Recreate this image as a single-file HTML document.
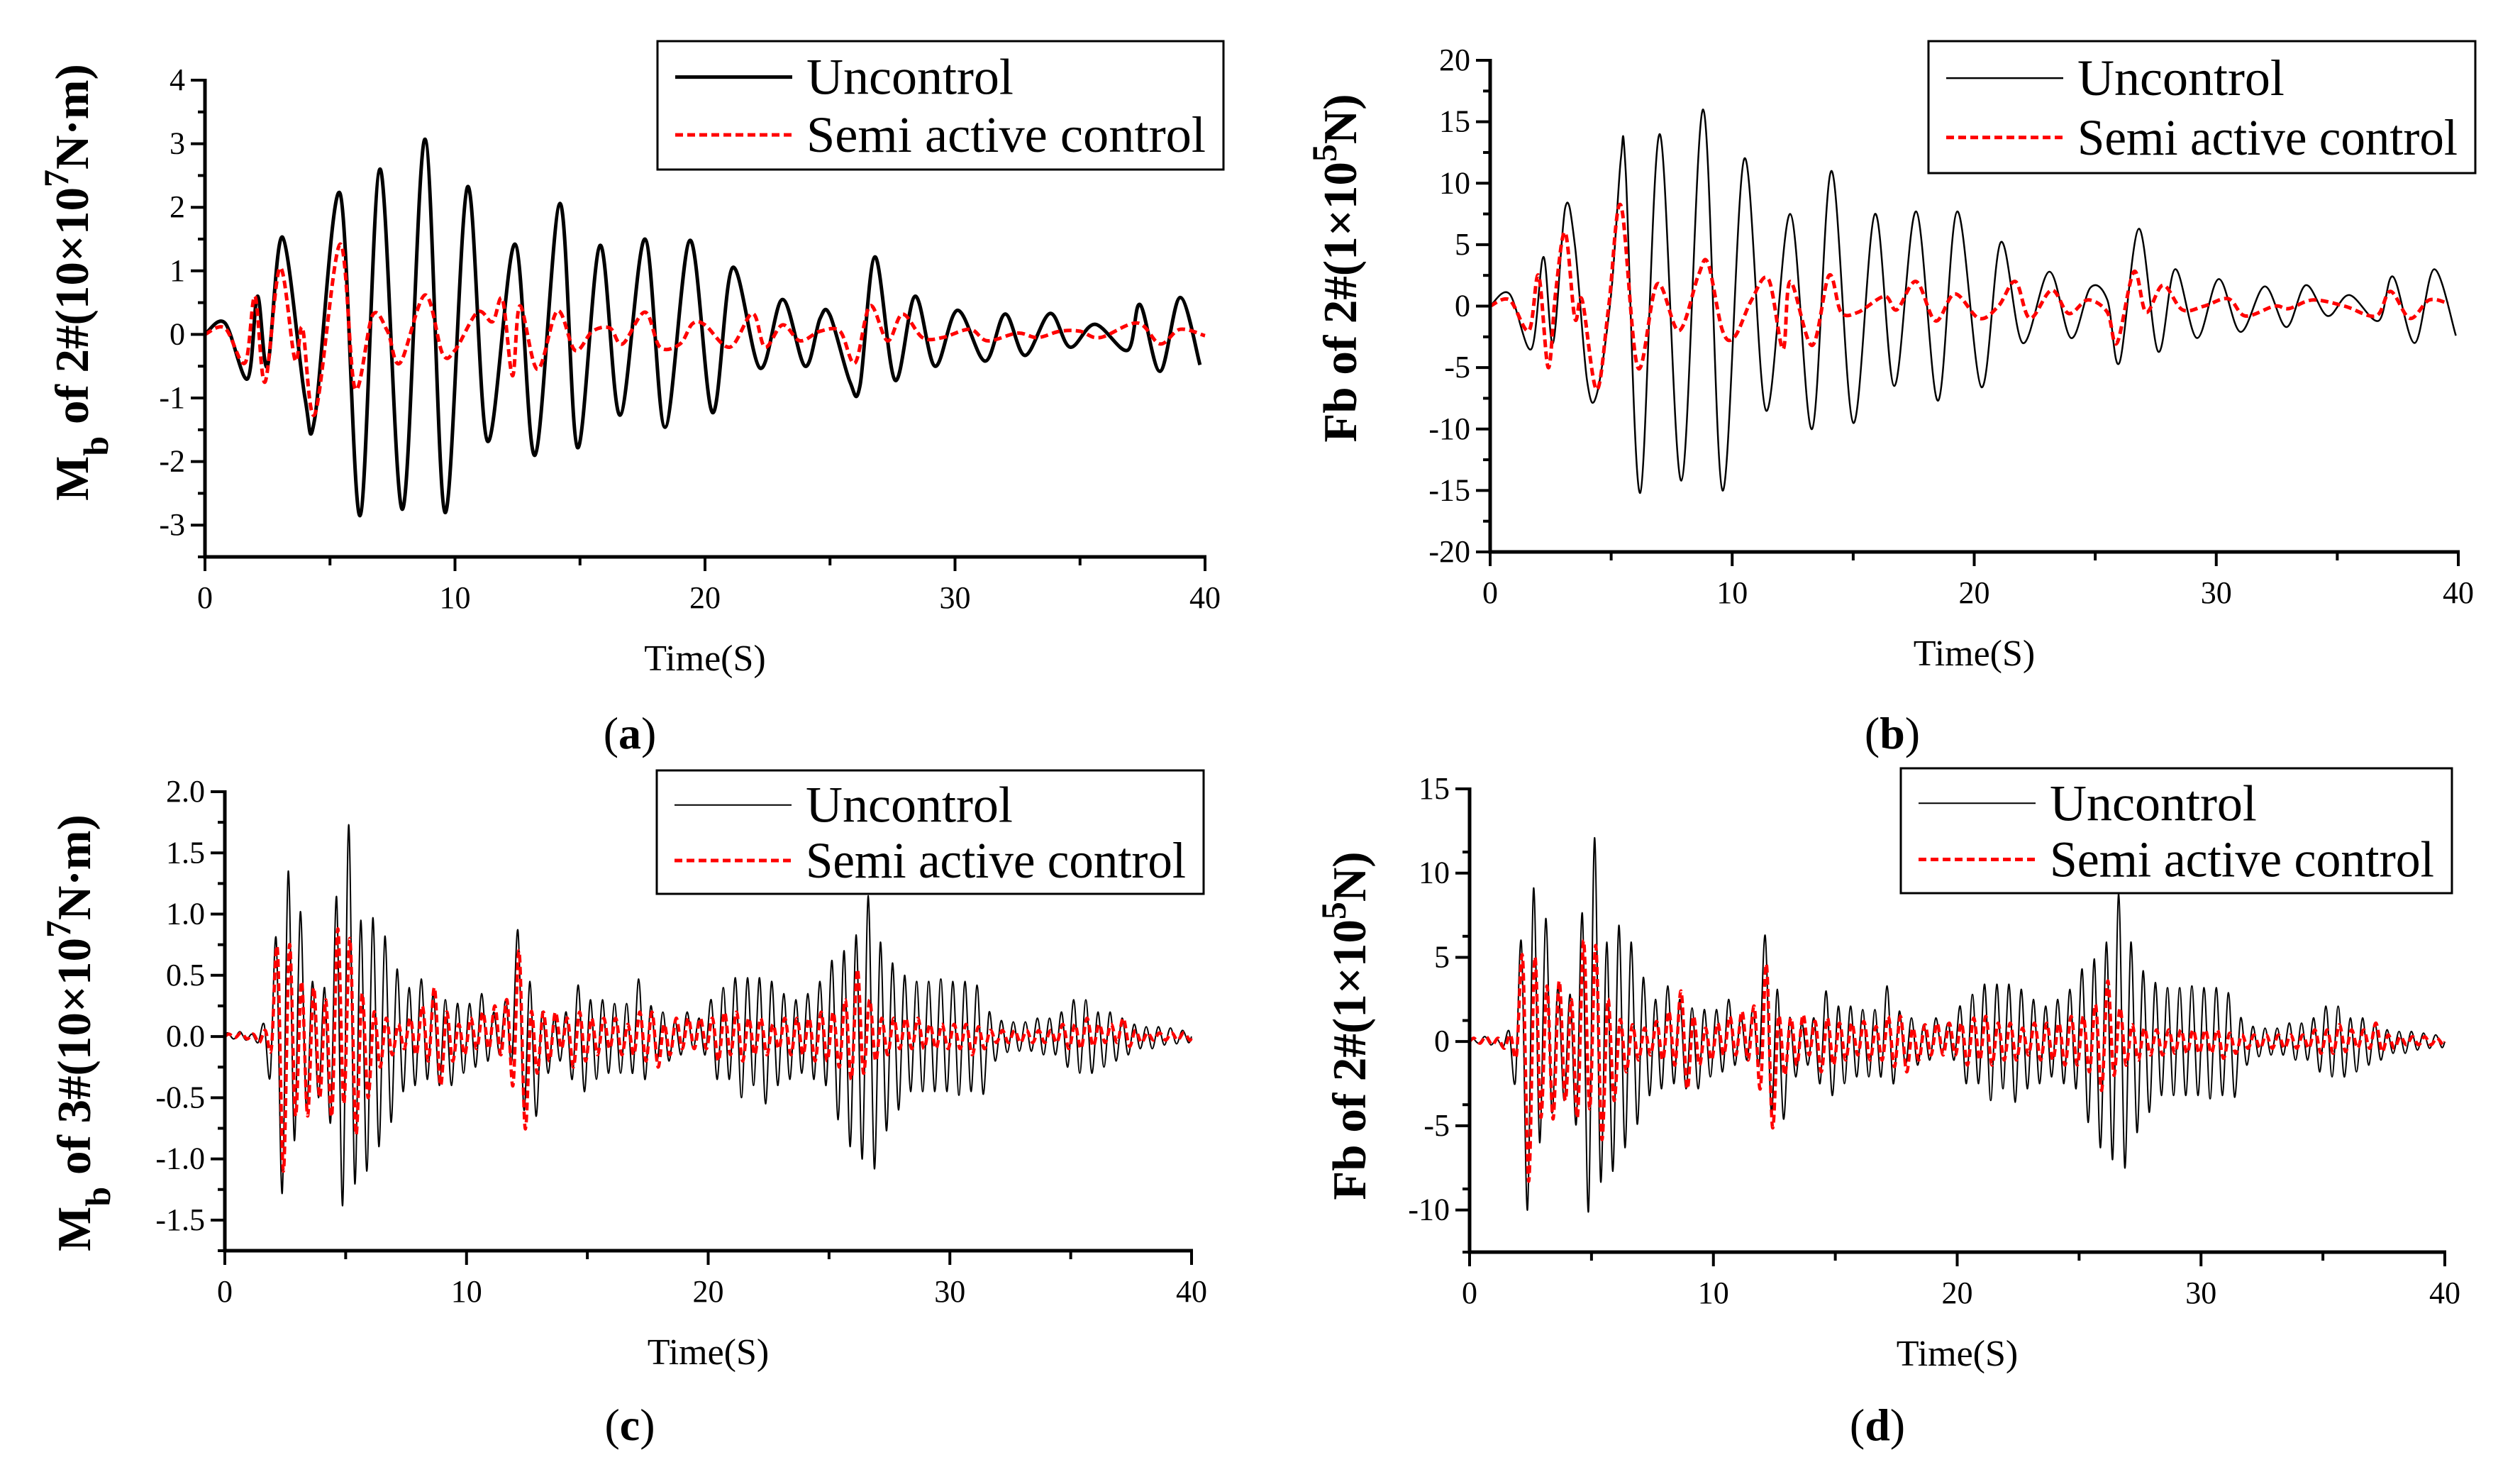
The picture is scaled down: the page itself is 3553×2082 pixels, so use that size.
<!DOCTYPE html>
<html><head><meta charset="utf-8"><style>
html,body{margin:0;padding:0;background:#fff}
svg{display:block}
text{font-family:"Liberation Serif",serif}
</style></head><body>
<svg id="fig" width="3553" height="2082" viewBox="0 0 3553 2082" xmlns="http://www.w3.org/2000/svg"></svg>
<script>
// Panel (a): extrema [time, value]
const aUnT=[0,0.8,1.7,2.1,2.5,3.1,4.0,4.4,5.4,6.2,7.0,7.9,8.8,9.6,10.5,11.3,12.4,13.2,14.2,14.9,15.8,16.6,17.6,18.4,19.4,20.3,21.1,22.2,23.1,24.0,24.6,25.0,25.8,26.2,26.8,27.6,28.4,29.2,30.1,31.2,32.0,32.8,33.8,34.6,35.6,36.9,37.4,38.2,39.0,39.8];
const aUnV=[0,0.18,-0.7,0.6,-0.5,1.53,-1.0,-1.3,2.22,-2.85,2.6,-2.75,3.07,-2.8,2.32,-1.68,1.42,-1.9,2.06,-1.78,1.4,-1.27,1.5,-1.46,1.48,-1.23,1.05,-0.53,0.55,-0.5,0.25,0.3,-0.75,-0.8,1.22,-0.72,0.6,-0.5,0.38,-0.42,0.32,-0.33,0.33,-0.2,0.16,-0.25,0.47,-0.58,0.58,-0.48];
const aSeT=[0,0.8,1.6,2.0,2.4,3.0,3.6,3.9,4.4,5.4,6.0,6.7,7.3,7.8,8.8,9.5,10.0,10.9,11.5,11.9,12.3,12.6,13.3,14.1,14.8,15.5,16.2,16.7,17.6,18.2,19.0,19.5,20.0,21.0,21.9,22.4,23.1,23.8,24.6,25.4,26.0,26.6,27.3,27.9,28.7,29.5,30.6,31.3,32.5,33.3,34.2,35.0,35.8,37.3,38.2,39.0,40];
const aSeV=[0,0.1,-0.45,0.6,-0.75,1.05,-0.4,0.1,-1.25,1.42,-0.85,0.3,0.05,-0.45,0.62,-0.3,-0.25,0.35,0.2,0.55,-0.65,0.45,-0.55,0.37,-0.25,0.05,0.1,-0.15,0.35,-0.2,-0.15,0.17,0.15,-0.2,0.33,-0.2,0.15,-0.1,0.05,0.05,-0.45,0.45,-0.1,0.32,-0.05,-0.05,0.08,-0.1,0.02,-0.05,0.05,0.05,-0.05,0.18,-0.15,0.08,-0.02];
// Panel (b)
const bUnT=[0,0.8,1.7,2.2,2.6,3.1,3.5,4.0,4.4,5.0,5.4,5.6,6.2,7.0,7.9,8.8,9.6,10.5,11.4,12.4,13.3,14.1,15.0,15.9,16.7,17.6,18.5,19.3,20.3,21.1,22.0,23.1,24.0,24.8,25.5,26.0,26.8,27.6,28.3,29.2,30.1,31.0,32.0,32.9,33.7,34.6,35.5,36.7,37.3,38.2,39.0,39.9];
const bUnV=[0,1,-3.5,4,-3,8,5,-6,-7.2,1,12,11,-15.2,14,-14.2,16,-15,12,-8.5,7.5,-10,11,-9.5,7.5,-6.5,7.7,-7.7,7.7,-6.6,5.2,-3,2.8,-2.6,1.5,0.5,-4.6,6.3,-3.7,3,-2.6,2.2,-2.1,1.6,-1.7,1.7,-0.8,0.9,-1.2,2.4,-3,3,-2.4];
const bSeT=[0,0.8,1.6,2.0,2.4,2.7,3.1,3.5,3.8,4.4,4.9,5.4,6.1,6.9,7.8,8.6,9.0,9.6,10.1,10.8,11.5,12.1,12.4,13.3,14.0,14.5,15.2,16.3,16.8,17.6,18.4,19.2,20.2,21.0,21.7,22.3,23.2,23.9,24.7,25.5,25.9,26.6,27.1,27.8,28.6,29.5,30.5,31.2,32.4,33.0,34.0,35.3,36.6,37.2,38.0,38.8,39.6];
const bSeV=[0,0.5,-2,2.5,-5,1,6,-1,0.5,-6.8,0,8.2,-5,1.8,-2,2.5,3.5,-2,-2.5,0.5,2.2,-3.5,2,-3.2,2.5,-0.5,-0.5,0.8,-0.3,2,-1.2,1,-1,0,2,-1,1.3,-0.6,0.5,-0.5,-3,2.8,-0.5,1.7,-0.3,0,0.6,-0.8,0,-0.2,0.5,0,-0.8,1.2,-1,0.5,0.2];
// Panels (c),(d): per-cycle peak (hi) and trough (lo), one cycle per 0.5 s
const cUnHi=[0.03,0.04,0.02,0.1,0.8,1.35,1.02,0.45,0.4,1.14,1.73,0.95,0.97,0.82,0.55,0.4,0.47,0.35,0.3,0.27,0.27,0.35,0.2,0.3,0.87,0.45,0.2,0.15,0.2,0.42,0.3,0.3,0.27,0.27,0.47,0.25,0.2,0.13,0.2,0.15,0.3,0.4,0.48,0.48,0.48,0.45,0.35,0.3,0.35,0.45,0.62,0.7,0.83,1.15,0.77,0.6,0.5,0.45,0.45,0.47,0.45,0.45,0.42,0.2,0.13,0.12,0.12,0.15,0.15,0.2,0.3,0.3,0.2,0.2,0.15,0.1,0.08,0.08,0.07,0.05];
const cUnLo=[-0.02,-0.03,-0.05,-0.33,-1.28,-0.85,-0.6,-0.5,-0.7,-1.38,-1.2,-1.1,-0.9,-0.7,-0.45,-0.4,-0.35,-0.4,-0.4,-0.3,-0.25,-0.2,-0.15,-0.2,-0.6,-0.65,-0.3,-0.2,-0.35,-0.45,-0.35,-0.3,-0.3,-0.3,-0.35,-0.2,-0.2,-0.15,-0.1,-0.15,-0.35,-0.35,-0.5,-0.4,-0.55,-0.4,-0.35,-0.3,-0.35,-0.4,-0.68,-0.9,-1.0,-1.08,-0.77,-0.6,-0.45,-0.45,-0.45,-0.45,-0.48,-0.45,-0.47,-0.2,-0.13,-0.12,-0.12,-0.15,-0.15,-0.25,-0.3,-0.3,-0.25,-0.2,-0.15,-0.1,-0.1,-0.07,-0.06,-0.05];
const cSeHi=[0.02,0.03,0.02,0.05,0.72,0.75,0.45,0.4,0.3,0.88,0.8,0.35,0.2,0.15,0.1,0.15,0.25,0.4,0.2,0.1,0.15,0.2,0.25,0.3,0.7,0.2,0.2,0.2,0.15,0.2,0.15,0.15,0.15,0.1,0.2,0.2,0.1,0.15,0.15,0.15,0.15,0.2,0.2,0.15,0.15,0.1,0.15,0.15,0.15,0.2,0.2,0.3,0.55,0.3,0.15,0.15,0.15,0.15,0.1,0.1,0.1,0.1,0.08,0.05,0.05,0.05,0.05,0.05,0.05,0.1,0.1,0.15,0.1,0.1,0.15,0.05,0.03,0.03,0.03,0.03];
const cSeLo=[-0.01,-0.02,-0.05,-0.1,-1.1,-0.65,-0.65,-0.5,-0.65,-0.55,-0.8,-0.5,-0.25,-0.15,-0.1,-0.15,-0.2,-0.4,-0.2,-0.15,-0.1,-0.1,-0.15,-0.4,-0.75,-0.3,-0.2,-0.1,-0.25,-0.2,-0.15,-0.1,-0.15,-0.15,-0.2,-0.25,-0.15,-0.1,-0.1,-0.1,-0.2,-0.15,-0.2,-0.15,-0.15,-0.1,-0.15,-0.15,-0.2,-0.2,-0.25,-0.35,-0.3,-0.2,-0.15,-0.1,-0.1,-0.1,-0.1,-0.1,-0.1,-0.15,-0.1,-0.05,-0.05,-0.05,-0.05,-0.05,-0.05,-0.1,-0.1,-0.08,-0.05,-0.05,-0.08,-0.05,-0.03,-0.03,-0.03,-0.03];
const dUnHi=[0.2,0.3,0.15,0.6,5.9,9.1,7.3,3.3,2.8,7.6,12.1,5.9,6.9,5.9,3.8,2.5,3.3,2.5,2.0,1.9,1.9,2.5,1.5,2.0,6.3,3.1,1.4,1.1,1.4,3.0,2.1,2.1,1.9,1.9,3.3,1.8,1.4,1.0,1.4,1.1,2.1,2.8,3.4,3.4,3.4,3.1,2.5,2.1,2.5,3.1,4.3,4.9,5.9,8.8,5.9,4.2,3.5,3.2,3.2,3.3,3.2,3.2,2.9,1.4,0.9,0.8,0.8,1.1,1.1,1.4,2.1,2.1,1.4,1.4,1.1,0.7,0.6,0.6,0.5,0.4];
const dUnLo=[-0.1,-0.2,-0.35,-2.4,-10,-6,-4.2,-3.5,-4.9,-10.1,-8.3,-7.7,-6.3,-4.9,-3.2,-2.8,-2.5,-2.8,-2.8,-2.1,-1.8,-1.4,-1.1,-1.4,-4.2,-4.6,-2.1,-1.4,-2.5,-3.2,-2.5,-2.1,-2.1,-2.1,-2.5,-1.4,-1.4,-1.1,-0.7,-1.1,-2.5,-2.5,-3.5,-2.8,-3.6,-2.8,-2.5,-2.1,-2.5,-2.8,-4.8,-6.3,-7.0,-7.5,-5.4,-4.2,-3.2,-3.2,-3.2,-3.2,-3.4,-3.2,-3.3,-1.4,-0.9,-0.8,-0.8,-1.1,-1.1,-1.8,-2.1,-2.1,-1.8,-1.4,-1.1,-0.7,-0.7,-0.5,-0.4,-0.35];
const dSeHi=[0.2,0.3,0.2,0.4,5.0,5.0,3.3,3.6,2.5,6.0,5.7,2.5,1.3,1.0,0.8,1.2,1.8,3.0,1.5,0.8,1.1,1.5,1.8,2.1,4.6,1.5,1.4,1.6,1.2,1.4,1.1,1.1,1.2,0.9,1.5,1.5,0.8,1.0,1.1,1.1,1.1,1.4,1.5,1.1,1.1,0.8,1.1,1.1,1.1,1.5,1.5,2.2,3.6,2.0,1.0,0.8,0.7,0.7,0.7,0.7,0.7,0.7,0.5,0.4,0.4,0.4,0.4,0.4,0.4,0.7,0.7,1.0,0.7,0.7,1.1,0.4,0.3,0.3,0.3,0.2];
const dSeLo=[-0.1,-0.2,-0.4,-0.8,-8.3,-4.5,-4.6,-3.5,-4.5,-4.0,-5.8,-3.5,-1.8,-1.1,-0.8,-1.1,-1.4,-2.8,-1.4,-1.1,-0.8,-0.8,-1.1,-2.8,-5.1,-2.0,-1.4,-0.8,-1.8,-1.4,-1.1,-0.8,-1.1,-1.1,-1.5,-1.8,-1.1,-0.8,-0.8,-0.8,-1.4,-1.1,-1.4,-1.1,-1.1,-0.8,-1.1,-1.1,-1.4,-1.4,-1.8,-2.9,-2.0,-1.4,-1.1,-0.8,-0.8,-0.7,-0.7,-0.7,-0.7,-1.0,-0.7,-0.4,-0.4,-0.4,-0.4,-0.4,-0.4,-0.7,-0.7,-0.6,-0.4,-0.4,-0.6,-0.4,-0.2,-0.2,-0.2,-0.2];
const cycle=0.5;
const xTicks=[0,10,20,30,40];
const aYTicks=[-3,-2,-1,0,1,2,3,4];
const bYTicks=[-20,-15,-10,-5,0,5,10,15,20];
const cYTicks=[-1.5,-1.0,-0.5,0.0,0.5,1.0,1.5,2.0];
const cYLabels=["-1.5","-1.0","-0.5","0.0","0.5","1.0","1.5","2.0"];
const dYTicks=[-10,-5,0,5,10,15];

const NS="http://www.w3.org/2000/svg";
const svg=document.getElementById('fig');
function mk(tag,attrs,parent){const e=document.createElementNS(NS,tag);for(const k in attrs)e.setAttribute(k,attrs[k]);(parent||svg).appendChild(e);return e;}

function cyclesToPts(hi,lo,shift){const t=[0],v=[0];for(let i=0;i<hi.length;i++){t.push(i*cycle+cycle*0.25+shift);v.push(hi[i]);t.push(i*cycle+cycle*0.75+shift);v.push(lo[i]);}t.push(40);v.push(0);return [t,v];}

function smoothPath(T,V,sx,sy){const p=T.map((t,i)=>[sx(t),sy(V[i])]);let d="M"+p[0][0].toFixed(1)+","+p[0][1].toFixed(1);
for(let i=0;i<p.length-1;i++){const p0=p[Math.max(0,i-1)],p1=p[i],p2=p[i+1],p3=p[Math.min(p.length-1,i+2)];
const c1=[p1[0]+(p2[0]-p0[0])/6,p1[1]+(p2[1]-p0[1])/6],c2=[p2[0]-(p3[0]-p1[0])/6,p2[1]-(p3[1]-p1[1])/6];
d+=" C"+c1[0].toFixed(1)+","+c1[1].toFixed(1)+" "+c2[0].toFixed(1)+","+c2[1].toFixed(1)+" "+p2[0].toFixed(1)+","+p2[1].toFixed(1);}return d;}

function panel(cfg){
 const g=mk('g',{});
 
 
 const sx=t=>cfg.x0+(t-0)/40*(cfg.x1-cfg.x0);
 const sy=v=>cfg.yB+(v-cfg.vmin)/(cfg.vmax-cfg.vmin)*(cfg.yT-cfg.yB);
 const un=mk('path',{d:smoothPath(cfg.uT,cfg.uV,sx,sy),fill:'none',stroke:'#000','stroke-width':cfg.uw,'stroke-linejoin':'round'},g);
 
 
 const se=mk('path',{d:smoothPath(cfg.sT,cfg.sV,sx,sy),fill:'none',stroke:'#ff0000','stroke-width':cfg.sw,'stroke-dasharray':'11,6'},g);
 
 
 const ax=mk('path',{d:`M${cfg.x0},${cfg.yT-2}V${cfg.yB}H${cfg.x1+2}`,fill:'none',stroke:'#000','stroke-width':5},g);
 
 
 for(let i=0;i<cfg.yt.length;i++){const v=cfg.yt[i],y=sy(v);
  mk('line',{x1:cfg.x0-20,x2:cfg.x0,y1:y,y2:y,stroke:'#000','stroke-width':4},g);
  if(i<cfg.yt.length-1){const ym=sy(v+cfg.ystep/2);mk('line',{x1:cfg.x0-10,x2:cfg.x0,y1:ym,y2:ym,stroke:'#000','stroke-width':4},g);}
  const tl=mk('text',{x:cfg.x0-28,y:y+14,'text-anchor':'end','font-size':44},g);tl.textContent=cfg.yl?cfg.yl[i]:String(v);
  
  }
 if(cfg.ybot){const ym=sy(cfg.vmin);mk('line',{x1:cfg.x0-10,x2:cfg.x0,y1:ym,y2:ym,stroke:'#000','stroke-width':4},g);}
 for(let i=0;i<xTicks.length;i++){const x=sx(xTicks[i]);
  mk('line',{x1:x,x2:x,y1:cfg.yB,y2:cfg.yB+20,stroke:'#000','stroke-width':4},g);
  if(i<xTicks.length-1){const xm=sx(xTicks[i]+5);mk('line',{x1:xm,x2:xm,y1:cfg.yB,y2:cfg.yB+12,stroke:'#000','stroke-width':4},g);}
  const tl=mk('text',{x:x,y:cfg.yB+72,'text-anchor':'middle','font-size':44},g);tl.textContent=String(xTicks[i]);
  
  }
 const xt=mk('text',{x:(cfg.x0+cfg.x1)/2,y:cfg.yB+160,'text-anchor':'middle','font-size':52},g);xt.textContent='Time(S)';
 
 
 const L=cfg.leg;
 const lb=mk('rect',{x:L[0],y:L[1],width:L[2]-L[0],height:L[3]-L[1],fill:'#fff',stroke:'#000','stroke-width':3},g);
 
 
 const r1=L[1]+(L[3]-L[1])*0.28,r2=L[1]+(L[3]-L[1])*0.73;
 mk('line',{x1:L[0]+25,x2:L[0]+190,y1:r1,y2:r1,stroke:'#000','stroke-width':cfg.uw},g);
 mk('line',{x1:L[0]+25,x2:L[0]+190,y1:r2,y2:r2,stroke:'#ff0000','stroke-width':5,'stroke-dasharray':'11,6'},g);
 const t1=mk('text',{x:L[0]+210,y:r1+24,'font-size':72},g);t1.textContent='Uncontrol';
 
 
 const t2=mk('text',{x:L[0]+210,y:r2+24,'font-size':72,textLength:L[2]-L[0]-235,lengthAdjust:'spacingAndGlyphs'},g);t2.textContent='Semi active control';
 
 
 const yt=mk('text',{transform:`translate(${cfg.ytx},${cfg.yty}) rotate(-90)`,'text-anchor':'middle','font-size':67,'font-weight':'bold'},g);
 yt.innerHTML=cfg.ytitle;
 
 
 const pl=mk('text',{x:cfg.lx,y:cfg.ly,'text-anchor':'middle','font-size':64},g);
 pl.innerHTML='(<tspan font-weight="bold">'+cfg.id+'</tspan>)';
 
 
}
const cU=cyclesToPts(cUnHi,cUnLo,0), cS=cyclesToPts(cSeHi,cSeLo,0.05);
const dU=cyclesToPts(dUnHi,dUnLo,0), dS=cyclesToPts(dSeHi,dSeLo,0.05);
const sub=(s)=>`<tspan baseline-shift="sub" font-size="50">${s}</tspan>`;
const sup=(s)=>`<tspan baseline-shift="super" font-size="50">${s}</tspan>`;
panel({id:'a',x0:289,x1:1699,yT:113,yB:785,vmin:-3.5,vmax:4,yt:aYTicks,ystep:1,ybot:true,uT:aUnT,uV:aUnV,sT:aSeT,sV:aSeV,uw:5,sw:5,
 leg:[927,58,1725,239],ytx:124,yty:398,ytitle:'M'+sub('b')+'<tspan> of 2#(10×10</tspan>'+sup('7')+'<tspan>N·m)</tspan>',lx:888,ly:1055});
panel({id:'b',x0:2101,x1:3466,yT:85,yB:778,vmin:-20,vmax:20,yt:bYTicks,ystep:5,ybot:false,uT:bUnT,uV:bUnV,sT:bSeT,sV:bSeV,uw:2.5,sw:5,
 leg:[2719,58,3490,244],ytx:1912,yty:378,ytitle:'Fb of 2#(1×10'+sup('5')+'<tspan>N)</tspan>',lx:2668,ly:1055});
panel({id:'c',x0:317,x1:1680,yT:1116,yB:1763,vmin:-1.75,vmax:2.0,yt:cYTicks,yl:cYLabels,ystep:0.5,ybot:true,uT:cU[0],uV:cU[1],sT:cS[0],sV:cS[1],uw:2,sw:4.5,
 leg:[926,1086,1697,1260],ytx:127,yty:1456,ytitle:'M'+sub('b')+'<tspan> of 3#(10×10</tspan>'+sup('7')+'<tspan>N·m)</tspan>',lx:888,ly:2030});
panel({id:'d',x0:2072,x1:3447,yT:1112,yB:1765,vmin:-12.5,vmax:15,yt:dYTicks,ystep:2.5,ybot:true,uT:dU[0],uV:dU[1],sT:dS[0],sV:dS[1],uw:2,sw:4.5,
 leg:[2680,1083,3457,1259],ytx:1925,yty:1446,ytitle:'Fb of 2#(1×10'+sup('5')+'<tspan>N)</tspan>',lx:2647,ly:2030});
</script>
</body></html>
